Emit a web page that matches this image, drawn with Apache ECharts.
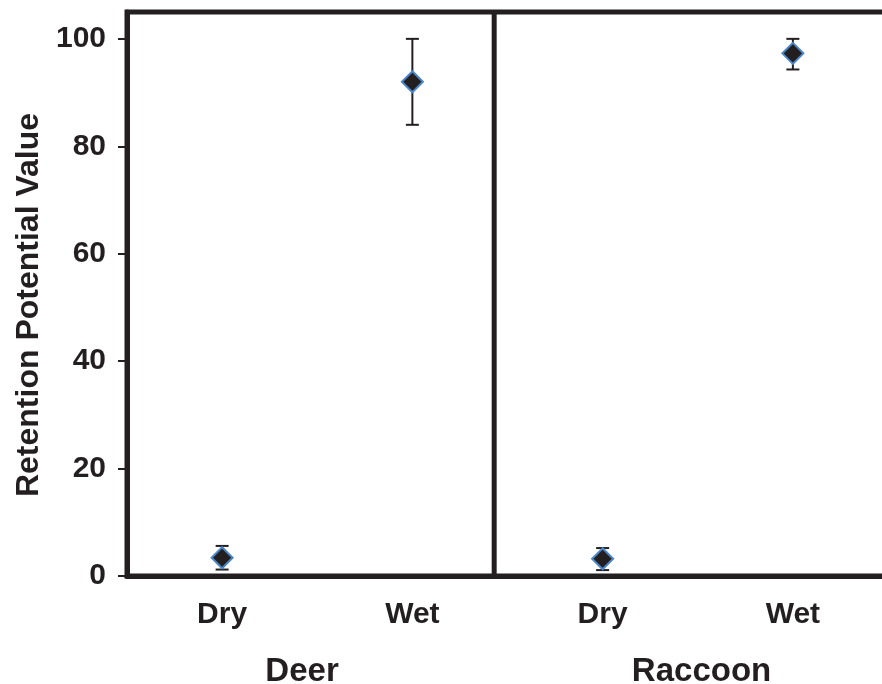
<!DOCTYPE html>
<html>
<head>
<meta charset="utf-8">
<title>Retention Potential Value</title>
<script src="https://cdn.jsdelivr.net/npm/echarts@6/dist/echarts.min.js"></script>
<style>
  html, body { margin: 0; padding: 0; background: #ffffff; }
  #chart { width: 882px; height: 684px; }
</style>
</head>
<body>
<div id="chart"></div>
<script>
// Conditions along the x axis, grouped by animal
const conditions = ['Dry', 'Wet', 'Dry', 'Wet'];
const groups = ['Deer', 'Raccoon'];

// Mean retention potential value and error range for each condition
const means = [3.4, 92.0, 3.2, 97.3];
const lows = [1.2, 84.0, 1.1, 94.3];
const highs = [5.6, 100.0, 5.2, 100.0];

// Y axis tick values
const yTicks = [0, 20, 40, 60, 80, 100];

// Layout helpers on the 0.5..4.5 panel scale
const groupLabelAt = [1.42, 3.52];
const panelBreak = 2.43;

const ink = '#231f20';
const font = '"Liberation Sans", Arial, Helvetica, sans-serif';

const chart = echarts.init(document.getElementById('chart'), null, { renderer: 'canvas' });

const errorData = conditions.map((c, i) => [i, lows[i], highs[i]]);

chart.setOption({
  animation: false,
  backgroundColor: '#ffffff',
  grid: {
    left: 127,
    width: 761,
    top: 12,
    bottom: 108,
    outerBoundsMode: 'none',
    containLabel: false,
    show: true,
    borderColor: ink,
    borderWidth: 5,
    backgroundColor: 'transparent'
  },
  xAxis: [
    {
      type: 'category',
      data: conditions,
      boundaryGap: true,
      axisLine: { show: true, lineStyle: { color: ink, width: 5 } },
      axisTick: { show: false },
      splitLine: { show: false },
      axisLabel: {
        color: ink,
        fontFamily: font,
        fontWeight: 'bold',
        fontSize: 30,
        margin: 24
      }
    },
    {
      type: 'value',
      min: 0.5,
      max: 4.5,
      position: 'bottom',
      axisLine: { show: false },
      axisTick: { show: false },
      splitLine: { show: false },
      axisLabel: {
        customValues: groupLabelAt,
        formatter: (v) => groups[groupLabelAt.indexOf(v)] || '',
        color: ink,
        fontFamily: font,
        fontWeight: 'bold',
        fontSize: 33,
        margin: 79
      }
    }
  ],
  yAxis: {
    type: 'value',
    min: 0,
    max: 105,
    name: 'Retention Potential Value',
    nameLocation: 'middle',
    nameGap: 82,
    nameTextStyle: {
      color: ink,
      fontFamily: font,
      fontWeight: 'bold',
      fontSize: 32,
      padding: [0, 22, 0, 0]
    },
    axisLine: { show: true, lineStyle: { color: ink, width: 5 } },
    axisTick: {
      show: true,
      inside: false,
      length: 9,
      customValues: yTicks,
      lineStyle: { color: ink, width: 2 }
    },
    splitLine: { show: false },
    axisLabel: {
      customValues: yTicks,
      color: ink,
      fontFamily: font,
      fontWeight: 'bold',
      fontSize: 30,
      margin: 21
    }
  },
  series: [
    {
      // vertical divider between the two animal panels
      type: 'line',
      xAxisIndex: 1,
      silent: true,
      symbol: 'none',
      lineStyle: { color: ink, width: 5 },
      data: [[panelBreak, 0], [panelBreak, 105]],
      z: 3
    },
    {
      // error bars with caps
      type: 'custom',
      xAxisIndex: 0,
      data: errorData,
      z: 4,
      renderItem: function (params, api) {
        const x = api.value(0);
        const lo = api.coord([x, api.value(1)]);
        const hi = api.coord([x, api.value(2)]);
        const cap = 6.5;
        const style = { stroke: ink, lineWidth: 2 };
        return {
          type: 'group',
          children: [
            { type: 'line', shape: { x1: lo[0], y1: lo[1], x2: hi[0], y2: hi[1] }, style },
            { type: 'line', shape: { x1: hi[0] - cap, y1: hi[1], x2: hi[0] + cap, y2: hi[1] }, style },
            { type: 'line', shape: { x1: lo[0] - cap, y1: lo[1], x2: lo[0] + cap, y2: lo[1] }, style }
          ]
        };
      }
    },
    {
      // mean markers
      type: 'scatter',
      xAxisIndex: 0,
      symbol: 'diamond',
      symbolSize: 21,
      data: conditions.map((c, i) => [i, means[i]]),
      itemStyle: { color: ink, opacity: 1, borderColor: '#4a86c8', borderWidth: 2 },
      z: 5
    }
  ]
});
</script>
</body>
</html>
